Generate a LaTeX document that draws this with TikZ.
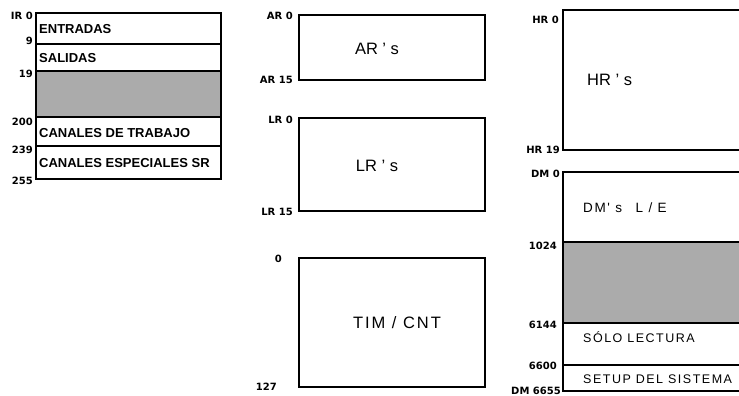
\documentclass[tikz,border=0pt]{standalone}
\usepackage{fontspec}
\setmainfont{Liberation Sans}
\newfontfamily\labfont{DejaVu Sans}
\newfontfamily\spcfont{Liberation Sans}[LetterSpace=12]
\begin{document}
\begin{tikzpicture}[x=1pt,y=-1pt,
  boxline/.style={line width=1.4pt},
  heavy/.style={line width=2pt},
  shade/.style={fill=black!33},
  lab/.style={anchor=east,inner sep=0pt,font=\labfont\bfseries\fontsize{10}{11}\selectfont},
  tbl/.style={anchor=west,inner sep=0pt,font=\bfseries\fontsize{13}{15}\selectfont},
  big/.style={inner sep=0pt,font=\fontsize{16.5}{19}\selectfont},
  dmtxt/.style={anchor=west,inner sep=0pt,font=\spcfont\fontsize{12.5}{15}\selectfont}]
\clip (0,0) rectangle (739,396);
\fill[white] (0,0) rectangle (739,396);

% ---------- left table (IR) ----------
\fill[shade] (36,71) rectangle (221,117);
\draw[boxline] (36,13) rectangle (221,179);
\draw[boxline] (36,44) -- (221,44);
\draw[heavy] (36,71) -- (221,71);
\draw[heavy] (36,117) -- (221,117);
\draw[boxline] (36,146) -- (221,146);
\node[tbl] (ent) at (39,29.5) {ENTRADAS};
\node[tbl] (sal) at (39,58) {SALIDAS};
\node[tbl] (ctr) at (39,133) {CANALES DE TRABAJO};
\node[tbl] (cesp) at (39,163) {CANALES ESPECIALES SR};
\node[lab] (ir0) at (33,16) {IR 0};
\node[lab] (ir9) at (33,41) {9};
\node[lab] (ir19) at (33,74) {19};
\node[lab] (ir200) at (33,122) {200};
\node[lab] (ir239) at (33,150) {239};
\node[lab] (ir255) at (33,181) {255};

% ---------- middle column ----------
\draw[boxline] (299,15) rectangle (485,80);
\node[big] (ars) at (377,49) {AR ' s};
\node[lab] (ar0) at (293,16) {AR 0};
\node[lab] (ar15) at (293,80) {AR 15};

\draw[boxline] (299,118) rectangle (485,211);
\node[big] (lrs) at (377,166) {LR ' s};
\node[lab] (lr0) at (293,120) {LR 0};
\node[lab] (lr15) at (293,212) {LR 15};

\draw[boxline] (299,258) rectangle (485,387);
\node[big,font=\spcfont\fontsize{16.5}{19}\selectfont] (tim) at (397,322.5) {TIM / CNT};
\node[lab] (t0) at (282,259) {0};
\node[lab] (t127) at (277,387) {127};

% ---------- right column ----------
\draw[boxline] (750,10) -- (563,10) -- (563,150) -- (750,150);
\node[big,anchor=west] (hrs) at (587,80) {HR ' s};
\node[lab] (hr0) at (559,19.5) {HR 0};
\node[lab] (hr19) at (560,149.5) {HR 19};

\fill[shade] (563,242) rectangle (750,323);
\draw[boxline] (750,172) -- (563,172) -- (563,391) -- (750,391);
\draw[heavy] (563,242) -- (750,242);
\draw[boxline] (563,323) -- (750,323);
\draw[boxline] (563,365) -- (750,365);
\node[dmtxt,font=\spcfont\fontsize{13.5}{16}\selectfont] (dms) at (583,208) {DM' s\quad L / E};
\node[dmtxt] (solo) at (583,337) {SÓLO LECTURA};
\node[dmtxt] (setup) at (583,379) {SETUP DEL SISTEMA};
\node[lab] (dm0) at (560,173.5) {DM 0};
\node[lab] (d1024) at (557,246) {1024};
\node[lab] (d6144) at (557,325) {6144};
\node[lab] (d6600) at (557,366) {6600};
\node[lab] (d6655) at (561,391) {DM 6655};
\end{tikzpicture}
\end{document}
